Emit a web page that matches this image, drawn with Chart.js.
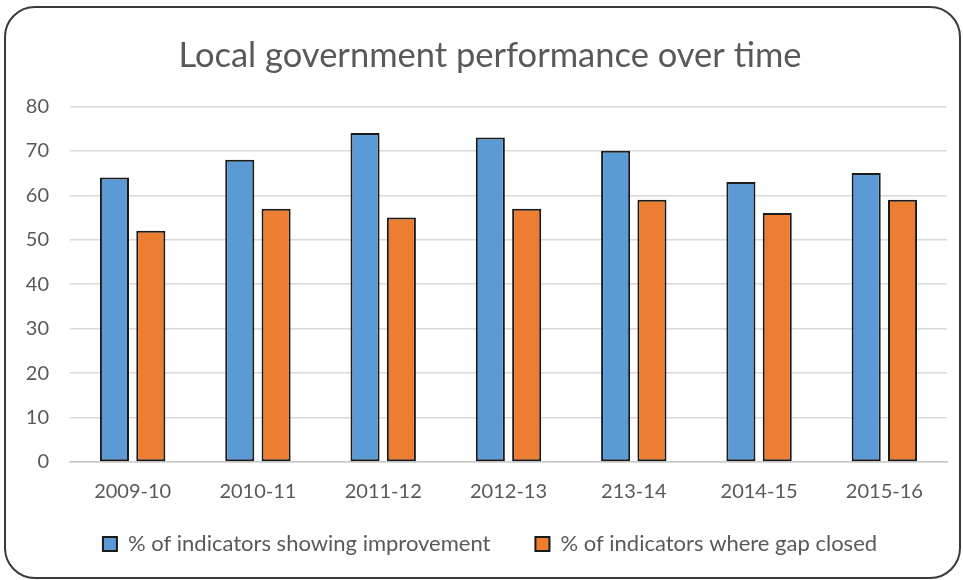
<!DOCTYPE html>
<html>
<head>
<meta charset="utf-8">
<script src="https://cdn.jsdelivr.net/npm/chart.js@4/dist/chart.umd.min.js"></script>
<style>
  html, body { margin: 0; padding: 0; background: #fff; }
  #wrap { width: 963px; height: 580px; position: relative; }
</style>
</head>
<body>
<div id="wrap"><canvas id="myChart" width="963" height="580"></canvas></div>
<script>
const categories = ['2009-10', '2010-11', '2011-12', '2012-13', '213-14', '2014-15', '2015-16'];
const improvement = [64, 68, 74, 73, 70, 63, 65];
const gapClosed = [52, 57, 55, 57, 59, 56, 59];
const yTicks = [0, 10, 20, 30, 40, 50, 60, 70, 80];

const textColor = '#595959';
const fontFamily = 'Lato, "Open Sans", sans-serif';

// rounded frame round the whole chart, like the Excel chart area
// also lets the tick labels spill out of their (squeezed) axis boxes
const framePlugin = {
    id: 'frame',
    beforeDraw(chart) {
        chart.scales.x._computeLabelArea = () => undefined;
        chart.scales.y._computeLabelArea = () => undefined;
        const ctx = chart.ctx;
        ctx.save();
        ctx.fillStyle = '#fff';
        ctx.fillRect(0, 0, chart.width, chart.height);
        ctx.beginPath();
        ctx.roundRect(5, 7, chart.width - 8, chart.height - 9, 30);
        ctx.lineWidth = 2;
        ctx.strokeStyle = '#3a3a3a';
        ctx.stroke();
        ctx.restore();
    }
};

const ctx = document.getElementById('myChart').getContext('2d');

const myChart = new Chart(ctx, {
    type: 'bar',
    data: {
        labels: categories,
        datasets: [{
            label: '% of indicators showing improvement',
            data: improvement,
            backgroundColor: '#5B9BD5',
            borderColor: '#1a1a1a',
            borderWidth: 2,
            borderSkipped: false
        }, {
            label: '% of indicators where gap closed',
            data: gapClosed,
            backgroundColor: '#ED7D31',
            borderColor: '#1a1a1a',
            borderWidth: 2,
            borderSkipped: false
        }]
    },
    options: {
        responsive: false,
        animation: false,
        layout: {
            padding: { top: 0, left: 33, right: 16, bottom: 15 }
        },
        datasets: {
            bar: {
                categoryPercentage: 0.58,
                barPercentage: 0.8
            }
        },
        scales: {
            x: {
                grid: { display: false, drawTicks: false },
                border: { display: true, color: '#c8c8c8', width: 1.5 },
                ticks: {
                    color: textColor,
                    font: { family: fontFamily, size: 20 },
                    padding: 18,
                    maxRotation: 0
                },
                afterFit(scale) { scale.height = 26; }
            },
            y: {
                min: 0,
                max: 80,
                afterBuildTicks(scale) {
                    scale.ticks = yTicks.map(v => ({ value: v }));
                },
                grid: { color: '#d9d9d9', lineWidth: 1.5, drawTicks: false },
                border: { display: false },
                ticks: {
                    color: textColor,
                    font: { family: fontFamily, size: 20 },
                    padding: 21
                },
                afterFit(scale) { scale.width = 37; }
            }
        },
        plugins: {
            title: {
                display: true,
                text: 'Local government performance over time',
                color: textColor,
                font: { family: fontFamily, size: 34.5, weight: 'normal' },
                padding: { top: 35, bottom: 30 }
            },
            legend: {
                position: 'bottom',
                labels: {
                    color: textColor,
                    font: { family: fontFamily, size: 22 },
                    boxWidth: 14,
                    boxHeight: 14,
                    padding: 45
                }
            },
            tooltip: { enabled: false }
        }
    },
    plugins: [framePlugin]
});
</script>
</body>
</html>
